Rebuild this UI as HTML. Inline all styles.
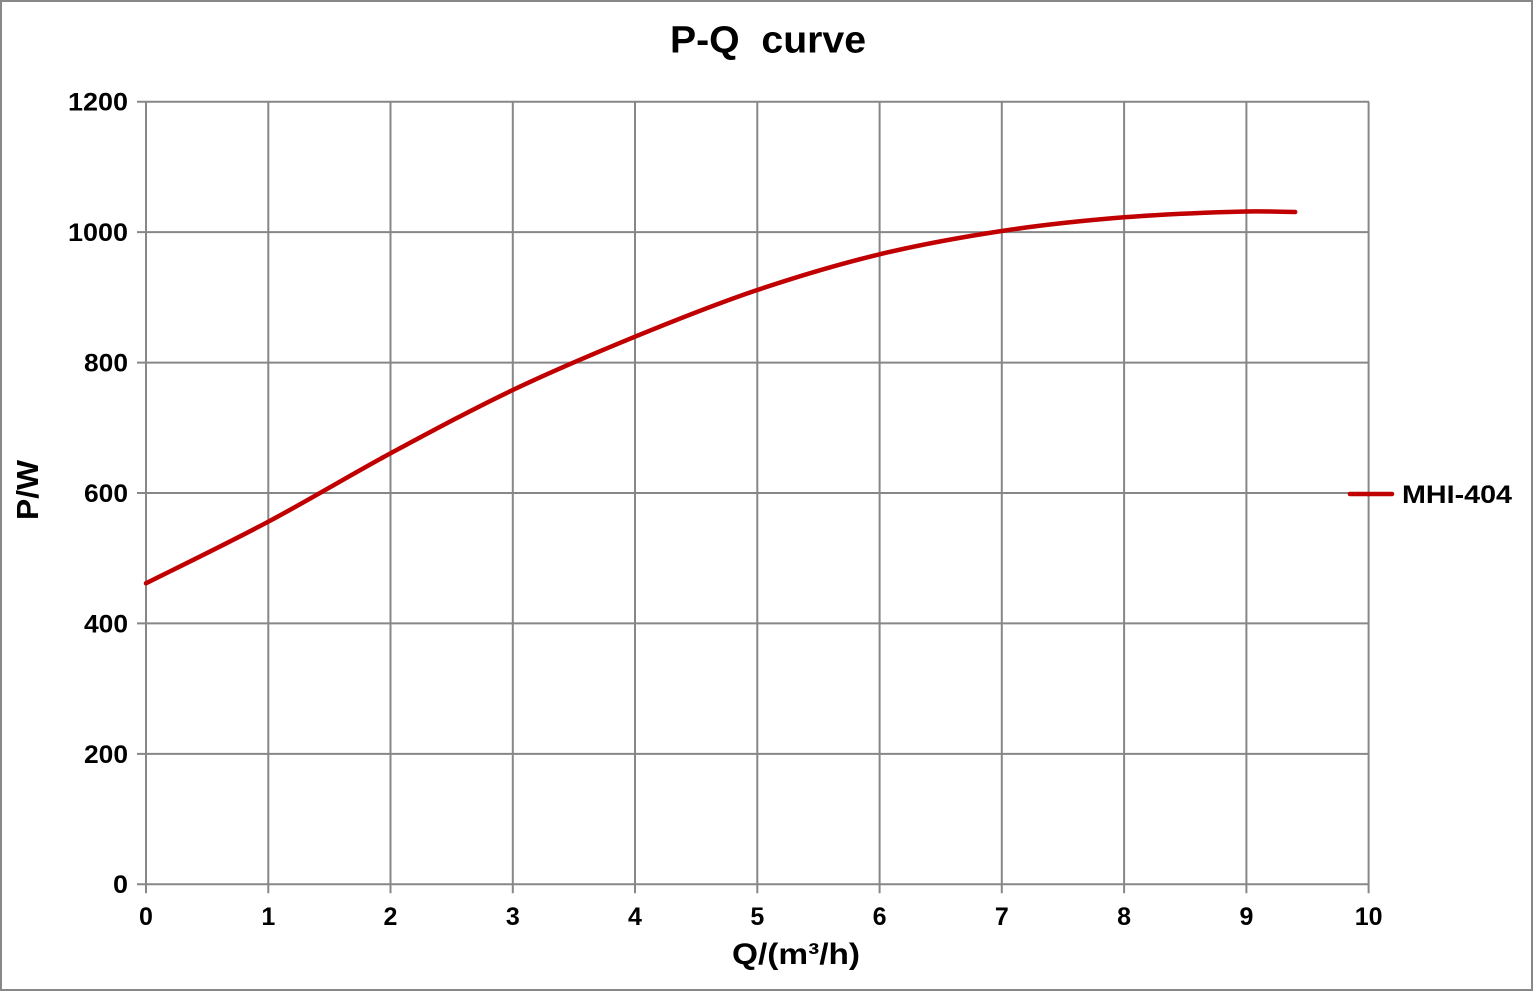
<!DOCTYPE html>
<html>
<head>
<meta charset="utf-8">
<style>
  html, body { margin:0; padding:0; background:#fff; }
  body { width:1535px; height:992px; overflow:hidden; }
  svg { display:block; }
  text { font-family: "Liberation Sans", "DejaVu Sans", sans-serif; font-weight:bold; fill:#000; }
</style>
</head>
<body>
<svg width="1535" height="992" viewBox="0 0 1535 992" xmlns="http://www.w3.org/2000/svg">
  <rect x="0" y="0" width="1535" height="992" fill="#fff"/>
  <rect x="1" y="1" width="1531" height="989" fill="none" stroke="#888" stroke-width="2"/>

  <!-- Title -->
  <text x="670" y="52.5" font-size="38" textLength="196" lengthAdjust="spacingAndGlyphs" xml:space="preserve">P-Q  curve</text>

  <!-- Gridlines -->
  <g stroke="#878787" stroke-width="2" fill="none">
    <line x1="137" y1="101.7" x2="1369" y2="101.7"/>
    <line x1="137" y1="232.1" x2="1369" y2="232.1"/>
    <line x1="137" y1="362.6" x2="1369" y2="362.6"/>
    <line x1="137" y1="493" x2="1369" y2="493"/>
    <line x1="137" y1="623.4" x2="1369" y2="623.4"/>
    <line x1="137" y1="753.9" x2="1369" y2="753.9"/>
    <line x1="137" y1="884.3" x2="1369" y2="884.3"/>
    <line x1="146" y1="101.7" x2="146" y2="893.3"/>
    <line x1="268.3" y1="101.7" x2="268.3" y2="893.3"/>
    <line x1="390.5" y1="101.7" x2="390.5" y2="893.3"/>
    <line x1="512.8" y1="101.7" x2="512.8" y2="893.3"/>
    <line x1="635" y1="101.7" x2="635" y2="893.3"/>
    <line x1="757.3" y1="101.7" x2="757.3" y2="893.3"/>
    <line x1="879.6" y1="101.7" x2="879.6" y2="893.3"/>
    <line x1="1001.8" y1="101.7" x2="1001.8" y2="893.3"/>
    <line x1="1124.1" y1="101.7" x2="1124.1" y2="893.3"/>
    <line x1="1246.4" y1="101.7" x2="1246.4" y2="893.3"/>
    <line x1="1368.6" y1="101.7" x2="1368.6" y2="893.3"/>
  </g>

  <!-- Y tick labels -->
  <g font-size="25" text-anchor="end">
    <text x="128" y="110.5" textLength="60" lengthAdjust="spacingAndGlyphs">1200</text>
    <text x="128" y="241" textLength="60" lengthAdjust="spacingAndGlyphs">1000</text>
    <text x="128" y="371.5" textLength="44" lengthAdjust="spacingAndGlyphs">800</text>
    <text x="128" y="502" textLength="44" lengthAdjust="spacingAndGlyphs">600</text>
    <text x="128" y="632.3" textLength="44" lengthAdjust="spacingAndGlyphs">400</text>
    <text x="128" y="762.8" textLength="44" lengthAdjust="spacingAndGlyphs">200</text>
    <text x="128" y="893" textLength="15" lengthAdjust="spacingAndGlyphs">0</text>
  </g>

  <!-- X tick labels -->
  <g font-size="25" text-anchor="middle">
    <text x="146" y="925">0</text>
    <text x="268.3" y="925">1</text>
    <text x="390.5" y="925">2</text>
    <text x="512.8" y="925">3</text>
    <text x="635" y="925">4</text>
    <text x="757.3" y="925">5</text>
    <text x="879.6" y="925">6</text>
    <text x="1001.8" y="925">7</text>
    <text x="1124.1" y="925">8</text>
    <text x="1246.4" y="925">9</text>
    <text x="1368.6" y="925">10</text>
  </g>

  <!-- Axis titles -->
  <text x="732" y="964" font-size="30" textLength="128" lengthAdjust="spacingAndGlyphs">Q/(m³/h)</text>
  <text x="0" y="0" font-size="31" text-anchor="middle" transform="translate(38,490) rotate(-90)" textLength="60" lengthAdjust="spacingAndGlyphs">P/W</text>

  <!-- Curve -->
  <path fill="none" stroke="#C00000" stroke-width="4.5" stroke-linecap="round" stroke-linejoin="round"
    d="M146,583.3
       C166.4,573.0 227.5,543.4 268.3,521.7
       C309.1,500.0 349.8,475.3 390.5,453.3
       C431.3,431.4 472.1,409.4 512.8,390
       C553.5,370.6 594.3,353.4 635,336.7
       C675.8,320.0 716.5,303.7 757.3,290
       C798.1,276.3 838.9,264.1 879.6,254.3
       C920.4,244.5 961.1,237.2 1001.8,231
       C1042.6,224.8 1083.3,220.6 1124.1,217.3
       C1164.9,214.1 1217.9,212.2 1246.4,211.5
       C1262.7,211.2 1287.1,211.8 1295.2,212"/>

  <!-- Legend -->
  <line x1="1350" y1="494" x2="1392" y2="494" stroke="#C00000" stroke-width="4.5" stroke-linecap="round"/>
  <text x="1402" y="503" font-size="25" textLength="110" lengthAdjust="spacingAndGlyphs">MHI-404</text>
</svg>
</body>
</html>
